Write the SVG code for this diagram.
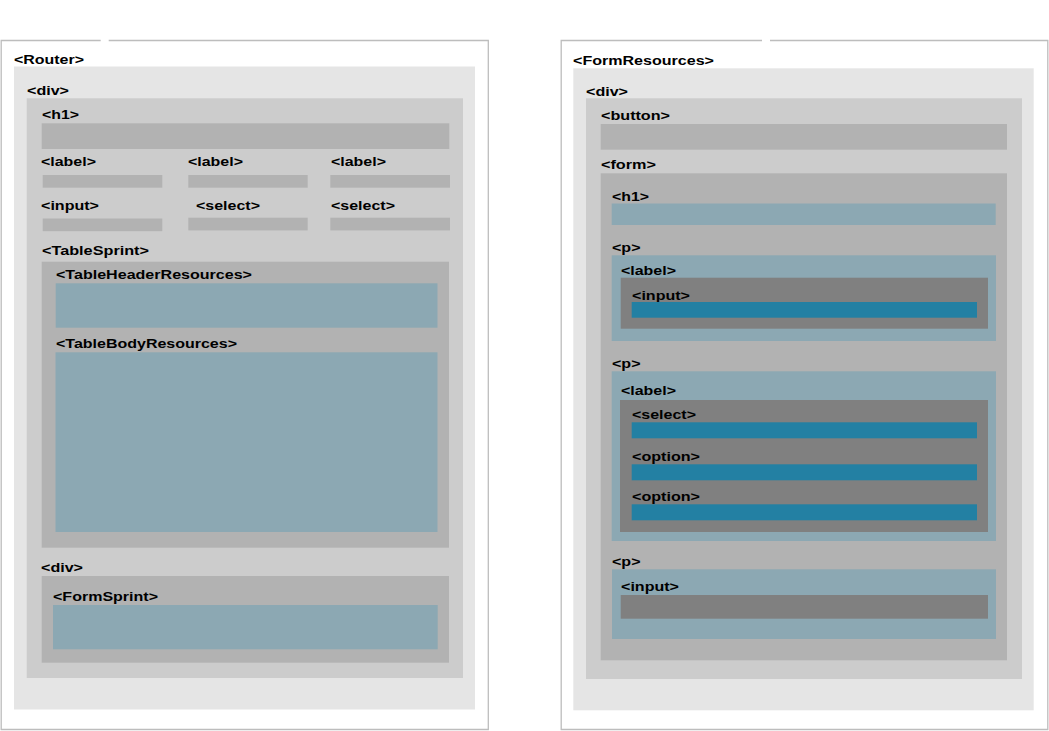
<svg xmlns="http://www.w3.org/2000/svg" width="1049" height="731" viewBox="0 0 1049 731">
<style>
.frame{fill:none;stroke:#bdbdbd;stroke-width:1.3}
.l0{fill:#e5e5e5}.l1{fill:#cccccc}.l2{fill:#b2b2b2}.lb{fill:#8ca8b3}.ld{fill:#808080}.bl{fill:#2380a3}
text{font-family:"Liberation Sans",Arial,Helvetica,sans-serif;font-weight:bold;font-size:13px;fill:#000}
</style>
<rect width="1049" height="731" fill="#ffffff"/>
<g id="left-panel">
  <path class="frame" d="M108.7,40.5 H488.3 V729.5 H1.2 V40.5 H100.7"/>
  <g id="router">
    <text x="14" y="64" textLength="70" lengthAdjust="spacingAndGlyphs">&lt;Router&gt;</text>
    <rect class="l0" x="14" y="66.5" width="461" height="643"/>
    <g id="router-div">
      <text x="27" y="95" textLength="42" lengthAdjust="spacingAndGlyphs">&lt;div&gt;</text>
      <rect class="l1" x="26.7" y="98.3" width="436.3" height="579.7"/>
      <g id="router-h1">
        <text x="42" y="119" textLength="37" lengthAdjust="spacingAndGlyphs">&lt;h1&gt;</text>
        <rect class="l2" x="41.7" y="123.3" width="407.6" height="25.7"/>
      </g>
      <g id="label-1">
        <text x="41" y="166" textLength="55" lengthAdjust="spacingAndGlyphs">&lt;label&gt;</text>
        <rect class="l2" x="42.7" y="175" width="119.6" height="12.7"/>
      </g>
      <g id="label-2">
        <text x="188" y="166" textLength="55" lengthAdjust="spacingAndGlyphs">&lt;label&gt;</text>
        <rect class="l2" x="188.3" y="175" width="119.4" height="12.7"/>
      </g>
      <g id="label-3">
        <text x="331" y="166" textLength="55" lengthAdjust="spacingAndGlyphs">&lt;label&gt;</text>
        <rect class="l2" x="330.3" y="175" width="119.7" height="12.7"/>
      </g>
      <g id="input-1">
        <text x="41" y="210" textLength="58" lengthAdjust="spacingAndGlyphs">&lt;input&gt;</text>
        <rect class="l2" x="42.7" y="218.5" width="119.6" height="12.7"/>
      </g>
      <g id="select-1">
        <text x="196" y="210" textLength="64" lengthAdjust="spacingAndGlyphs">&lt;select&gt;</text>
        <rect class="l2" x="188.3" y="217.7" width="119.4" height="12.7"/>
      </g>
      <g id="select-2">
        <text x="331" y="210" textLength="64" lengthAdjust="spacingAndGlyphs">&lt;select&gt;</text>
        <rect class="l2" x="330.3" y="217.7" width="119.7" height="12.7"/>
      </g>
      <g id="table-sprint">
        <text x="42" y="255" textLength="107" lengthAdjust="spacingAndGlyphs">&lt;TableSprint&gt;</text>
        <rect class="l2" x="41.7" y="261.7" width="407.3" height="286"/>
        <g id="table-header-resources">
          <text x="56" y="279" textLength="196" lengthAdjust="spacingAndGlyphs">&lt;TableHeaderResources&gt;</text>
          <rect class="lb" x="55.7" y="283.3" width="381.8" height="44.4"/>
        </g>
        <g id="table-body-resources">
          <text x="56" y="348" textLength="181" lengthAdjust="spacingAndGlyphs">&lt;TableBodyResources&gt;</text>
          <rect class="lb" x="55.5" y="352.3" width="382" height="179.7"/>
        </g>
      </g>
      <g id="router-inner-div">
        <text x="41" y="572" textLength="42" lengthAdjust="spacingAndGlyphs">&lt;div&gt;</text>
        <rect class="l2" x="41.7" y="576" width="407.3" height="86.7"/>
        <g id="form-sprint">
          <text x="53" y="601" textLength="105" lengthAdjust="spacingAndGlyphs">&lt;FormSprint&gt;</text>
          <rect class="lb" x="53" y="605" width="384.7" height="44.3"/>
        </g>
      </g>
    </g>
  </g>
</g>
<g id="right-panel">
  <path class="frame" d="M770,40.5 H1047.8 V729.5 H561.2 V40.5 H762"/>
  <g id="form-resources">
    <text x="573" y="65" textLength="141" lengthAdjust="spacingAndGlyphs">&lt;FormResources&gt;</text>
    <rect class="l0" x="573.3" y="68.3" width="460.4" height="642"/>
    <g id="fr-div">
      <text x="586" y="96" textLength="42" lengthAdjust="spacingAndGlyphs">&lt;div&gt;</text>
      <rect class="l1" x="586" y="98.3" width="436" height="580.7"/>
      <g id="fr-button">
        <text x="601" y="120" textLength="69" lengthAdjust="spacingAndGlyphs">&lt;button&gt;</text>
        <rect class="l2" x="600.7" y="124" width="406.3" height="25.7"/>
      </g>
      <g id="fr-form">
        <text x="601" y="169" textLength="55" lengthAdjust="spacingAndGlyphs">&lt;form&gt;</text>
        <rect class="l2" x="600.7" y="173.3" width="406.3" height="487"/>
        <g id="fr-h1">
          <text x="612" y="201" textLength="37" lengthAdjust="spacingAndGlyphs">&lt;h1&gt;</text>
          <rect class="lb" x="611.7" y="203.5" width="384" height="21.5"/>
        </g>
        <g id="fr-p1">
          <text x="612" y="251.5" textLength="28.5" lengthAdjust="spacingAndGlyphs">&lt;p&gt;</text>
          <rect class="lb" x="611.7" y="255.3" width="384.3" height="85.7"/>
          <g id="fr-p1-label">
            <text x="621" y="275" textLength="55" lengthAdjust="spacingAndGlyphs">&lt;label&gt;</text>
            <rect class="ld" x="620.7" y="277.7" width="367.3" height="51"/>
            <g id="fr-p1-input">
              <text x="632" y="299.5" textLength="58" lengthAdjust="spacingAndGlyphs">&lt;input&gt;</text>
              <rect class="bl" x="631.7" y="302" width="345.3" height="15.7"/>
            </g>
          </g>
        </g>
        <g id="fr-p2">
          <text x="612" y="368" textLength="28.5" lengthAdjust="spacingAndGlyphs">&lt;p&gt;</text>
          <rect class="lb" x="611.7" y="371.3" width="384.3" height="169.7"/>
          <g id="fr-p2-label">
            <text x="621" y="395" textLength="55" lengthAdjust="spacingAndGlyphs">&lt;label&gt;</text>
            <rect class="ld" x="620" y="400" width="368" height="132"/>
            <g id="fr-select">
              <text x="632" y="419" textLength="64" lengthAdjust="spacingAndGlyphs">&lt;select&gt;</text>
              <rect class="bl" x="631.7" y="422.3" width="345.3" height="16"/>
            </g>
            <g id="fr-option-1">
              <text x="632" y="461" textLength="68" lengthAdjust="spacingAndGlyphs">&lt;option&gt;</text>
              <rect class="bl" x="631.7" y="464.3" width="345.3" height="16"/>
            </g>
            <g id="fr-option-2">
              <text x="632" y="501" textLength="68" lengthAdjust="spacingAndGlyphs">&lt;option&gt;</text>
              <rect class="bl" x="631.7" y="504.3" width="345.3" height="16"/>
            </g>
          </g>
        </g>
        <g id="fr-p3">
          <text x="612" y="566" textLength="28.5" lengthAdjust="spacingAndGlyphs">&lt;p&gt;</text>
          <rect class="lb" x="612" y="569.3" width="384" height="69.7"/>
          <g id="fr-p3-input">
            <text x="621" y="591" textLength="58" lengthAdjust="spacingAndGlyphs">&lt;input&gt;</text>
            <rect class="ld" x="620.7" y="595" width="367.3" height="23.7"/>
          </g>
        </g>
      </g>
    </g>
  </g>
</g>
</svg>
